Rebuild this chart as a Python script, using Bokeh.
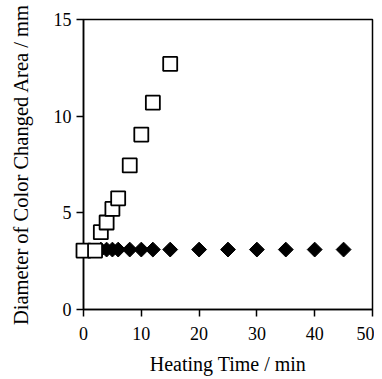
import math
from bokeh.plotting import figure
from bokeh.embed import file_html
from bokeh.resources import INLINE
from bokeh.models import Range1d, FixedTicker

# Data
sq_time = [0, 2, 3, 4, 5, 6, 8, 10, 12, 15]
sq_diam = [3.05, 3.05, 4.0, 4.5, 5.2, 5.75, 7.45, 9.05, 10.7, 12.7]
dia_time = [3, 4, 5, 6, 8, 10, 12, 15, 20, 25, 30, 35, 40, 45]
dia_diam = [3.1] * len(dia_time)
x_ticks = [0, 10, 20, 30, 40, 50]
y_ticks = [0, 5, 10, 15]

FONT = "Liberation Serif"

p = figure(width=374, height=379, output_backend="svg", toolbar_location=None,
           x_range=Range1d(0, 50), y_range=Range1d(0, 15),
           min_border_left=83, min_border_right=2, min_border_top=19, min_border_bottom=70)

p.grid.visible = False
p.outline_line_color = "black"
p.outline_line_width = 1.5
p.background_fill_color = "white"
p.border_fill_color = "white"

for ax in (p.xaxis[0], p.yaxis[0]):
    ax.axis_line_color = "black"
    ax.axis_line_width = 1.5
    ax.major_tick_line_width = 1.5
    ax.major_tick_out = 7
    ax.major_tick_in = 0
    ax.minor_tick_line_color = None
    ax.major_label_text_font = FONT
    ax.major_label_text_font_size = "18px"
    ax.major_label_text_color = "black"
    ax.axis_label_text_font = FONT
    ax.axis_label_text_font_style = "normal"
    ax.axis_label_text_color = "black"

p.xaxis.axis_label_text_font_size = "20px"
p.yaxis.axis_label_text_font_size = "20.5px"
p.xaxis.ticker = FixedTicker(ticks=x_ticks)
p.yaxis.ticker = FixedTicker(ticks=y_ticks)
p.xaxis.axis_label = "Heating Time / min"
p.yaxis.axis_label = "Diameter of Color Changed Area / mm"
p.yaxis.major_label_standoff = 5
p.xaxis.major_label_standoff = 10
p.yaxis.axis_label_standoff = 19
p.xaxis.axis_label_standoff = 10

r1 = p.scatter(dia_time, dia_diam, marker="square", size=10.5, angle=math.pi / 4,
               fill_color="black", line_color="black")
r2 = p.scatter(sq_time, sq_diam, marker="square", size=14, fill_color="white",
               line_color="black", line_width=1.8)
r1.level = "overlay"
r2.level = "overlay"

open("out.html", "w").write(file_html(p, INLINE))
